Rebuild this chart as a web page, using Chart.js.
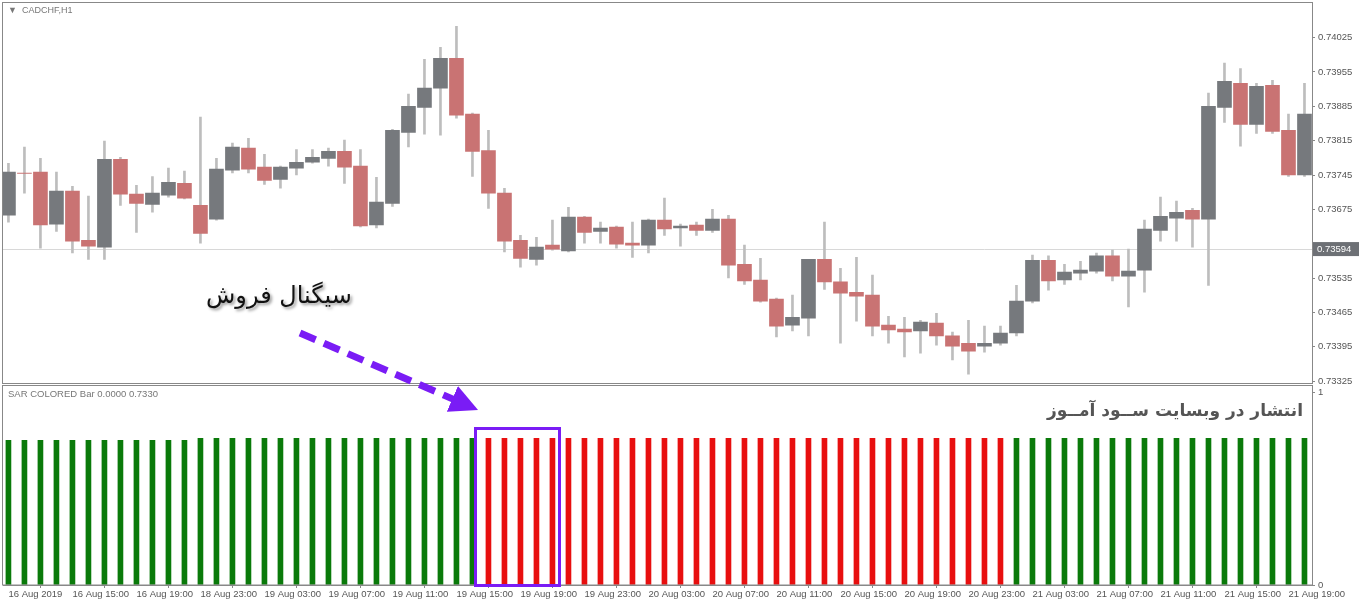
<!DOCTYPE html>
<html><head><meta charset="utf-8">
<script src="https://cdn.jsdelivr.net/npm/chart.js@4.4.1/dist/chart.umd.min.js"></script>
<style>
html,body{margin:0;padding:0;background:#fff;width:1360px;height:605px;overflow:hidden;font-family:"DejaVu Sans",sans-serif}
#w1{position:absolute;left:0;top:0;width:1360px;height:396px}
#w2{position:absolute;left:0;top:0;width:1360px;height:605px}
.t{position:absolute;white-space:nowrap}
svg{position:absolute;left:0;top:0}
</style></head><body>
<div id="w2"><canvas id="c2"></canvas></div>
<div id="w1"><canvas id="c1"></canvas></div>
<div class="t" style="left:8px;top:5px;font-size:9px;color:#777;font-family:'Liberation Sans'">&#9660;&nbsp; CADCHF,H1</div>
<div class="t" style="left:8px;top:388px;font-size:9.5px;color:#777;font-family:'Liberation Sans'">SAR COLORED Bar 0.0000 0.7330</div>
<div class="t" dir="rtl" style="left:206px;top:281px;font-size:24px;color:#111;text-shadow:2px 2px 3px #999">سیگنال فروش</div>
<div class="t" dir="rtl" style="right:57px;top:400px;font-size:17px;font-weight:bold;color:#555">انتشار در وبسایت ســود آمــوز</div>
<svg width="1360" height="605">
<defs><marker id="ah" markerWidth="4" markerHeight="4" refX="1.5" refY="2" orient="auto"><path d="M0,0 L4,2 L0,4 z" fill="#7a1cf5"/></marker></defs>
<line x1="300" y1="333" x2="462" y2="403" stroke="#7a1cf5" stroke-width="7" stroke-dasharray="17,9" marker-end="url(#ah)"/>
<rect x="475.5" y="428.5" width="84" height="157" fill="none" stroke="#7a1cf5" stroke-width="3"/>
</svg>
<script>
const timeLabels=["16 Aug 2019","16 Aug 15:00","16 Aug 19:00","18 Aug 23:00","19 Aug 03:00","19 Aug 07:00","19 Aug 11:00","19 Aug 15:00","19 Aug 19:00","19 Aug 23:00","20 Aug 03:00","20 Aug 07:00","20 Aug 11:00","20 Aug 15:00","20 Aug 19:00","20 Aug 23:00","21 Aug 03:00","21 Aug 07:00","21 Aug 11:00","21 Aug 15:00","21 Aug 19:00"];
const priceTicks=[0.74025,0.73955,0.73885,0.73815,0.73745,0.73675,0.73535,0.73465,0.73395,0.73325];
const lastPrice=0.73594;
const opens=[0.73663,0.73749,0.73751,0.73645,0.73712,0.73612,0.73598,0.73777,0.73706,0.73685,0.73704,0.73728,0.73683,0.73655,0.73755,0.73800,0.73761,0.73736,0.73759,0.73771,0.73779,0.73793,0.73763,0.73643,0.73687,0.73832,0.73883,0.73922,0.73983,0.73869,0.73795,0.73708,0.73612,0.73573,0.73602,0.73590,0.73659,0.73630,0.73639,0.73606,0.73602,0.73653,0.73637,0.73643,0.73632,0.73655,0.73563,0.73531,0.73492,0.73439,0.73453,0.73573,0.73527,0.73506,0.73500,0.73439,0.73431,0.73427,0.73443,0.73417,0.73402,0.73396,0.73402,0.73423,0.73488,0.73571,0.73531,0.73545,0.73549,0.73580,0.73539,0.73551,0.73632,0.73657,0.73673,0.73655,0.73883,0.73932,0.73848,0.73928,0.73836,0.73745];
const highs=[0.73769,0.73802,0.73779,0.73751,0.73722,0.73702,0.73814,0.73781,0.73724,0.73742,0.73759,0.73753,0.73863,0.73779,0.73810,0.73820,0.73787,0.73763,0.73797,0.73797,0.73800,0.73816,0.73797,0.73740,0.73838,0.73910,0.73981,0.74005,0.74048,0.73871,0.73836,0.73718,0.73622,0.73618,0.73653,0.73679,0.73661,0.73649,0.73641,0.73649,0.73655,0.73698,0.73645,0.73649,0.73675,0.73663,0.73602,0.73575,0.73494,0.73500,0.73573,0.73649,0.73555,0.73577,0.73541,0.73457,0.73455,0.73449,0.73463,0.73425,0.73449,0.73437,0.73437,0.73520,0.73582,0.73580,0.73563,0.73569,0.73586,0.73592,0.73594,0.73653,0.73700,0.73692,0.73677,0.73912,0.73973,0.73962,0.73932,0.73938,0.73869,0.73932];
const lows=[0.73649,0.73708,0.73596,0.73630,0.73586,0.73573,0.73573,0.73683,0.73628,0.73669,0.73700,0.73696,0.73606,0.73653,0.73749,0.73749,0.73726,0.73718,0.73745,0.73769,0.73763,0.73728,0.73639,0.73637,0.73681,0.73802,0.73828,0.73826,0.73861,0.73742,0.73677,0.73588,0.73557,0.73561,0.73592,0.73588,0.73606,0.73606,0.73596,0.73577,0.73586,0.73622,0.73600,0.73622,0.73628,0.73535,0.73522,0.73486,0.73415,0.73427,0.73417,0.73512,0.73402,0.73447,0.73417,0.73402,0.73374,0.73382,0.73398,0.73368,0.73339,0.73384,0.73398,0.73417,0.73484,0.73510,0.73522,0.73531,0.73545,0.73529,0.73476,0.73506,0.73610,0.73610,0.73598,0.73520,0.73852,0.73804,0.73830,0.73830,0.73742,0.73742];
const closes=[0.73751,0.73748,0.73643,0.73712,0.73610,0.73600,0.73777,0.73706,0.73687,0.73708,0.73730,0.73698,0.73626,0.73757,0.73802,0.73757,0.73734,0.73761,0.73771,0.73781,0.73793,0.73761,0.73641,0.73690,0.73836,0.73885,0.73922,0.73983,0.73867,0.73793,0.73708,0.73610,0.73575,0.73598,0.73594,0.73659,0.73628,0.73637,0.73604,0.73602,0.73653,0.73635,0.73641,0.73632,0.73655,0.73561,0.73529,0.73488,0.73437,0.73455,0.73573,0.73527,0.73504,0.73498,0.73437,0.73429,0.73425,0.73445,0.73417,0.73396,0.73386,0.73402,0.73423,0.73488,0.73571,0.73529,0.73547,0.73551,0.73580,0.73539,0.73549,0.73635,0.73661,0.73669,0.73655,0.73885,0.73936,0.73848,0.73926,0.73834,0.73745,0.73869];
const sarValues=[0.75,0.75,0.75,0.75,0.75,0.75,0.75,0.75,0.75,0.75,0.75,0.75,0.76,0.76,0.76,0.76,0.76,0.76,0.76,0.76,0.76,0.76,0.76,0.76,0.76,0.76,0.76,0.76,0.76,0.76,0.76,0.76,0.76,0.76,0.76,0.76,0.76,0.76,0.76,0.76,0.76,0.76,0.76,0.76,0.76,0.76,0.76,0.76,0.76,0.76,0.76,0.76,0.76,0.76,0.76,0.76,0.76,0.76,0.76,0.76,0.76,0.76,0.76,0.76,0.76,0.76,0.76,0.76,0.76,0.76,0.76,0.76,0.76,0.76,0.76,0.76,0.76,0.76,0.76,0.76,0.76,0.76];
const sarTrend="GGGGGGGGGGGGGGGGGGGGGGGGGGGGGGRRRRRRRRRRRRRRRRRRRRRRRRRRRRRRRRRGGGGGGGGGGGGGGGGGGG".split("");

const BULL="#76797d",BEAR="#c97373",WICK="#bdbdbd";
const font={family:"Liberation Sans",size:9.5};
const xMin=-0.34,xMax=81.47;
function fixW(w){return s=>{s.width=w;};}

const lastLine={id:'lastLine',
  beforeDatasetsDraw(c){const y=c.scales.y.getPixelForValue(lastPrice),a=c.chartArea,x=c.ctx;
    x.save();x.strokeStyle="#d8d8d8";x.lineWidth=1;x.beginPath();x.moveTo(a.left,Math.round(y)+.5);x.lineTo(a.right,Math.round(y)+.5);x.stroke();x.restore();},
  afterDraw(c){const y=c.scales.y.getPixelForValue(lastPrice),a=c.chartArea,x=c.ctx;
    x.save();x.fillStyle="#6d7075";x.fillRect(a.right+1,y-7,46,14);x.fillStyle="#fff";x.font="9.5px Liberation Sans";x.textBaseline="middle";x.fillText(lastPrice.toFixed(5),a.right+5,y+0.5);x.restore();}
};

new Chart(document.getElementById('c1'),{
  type:'bar',
  data:{datasets:[
    {data:lows.map((l,i)=>({x:i,y:[l,highs[i]]})),backgroundColor:WICK,barThickness:2,grouped:false,order:2},
    {data:opens.map((o,i)=>({x:i,y:[o,closes[i]===o?o+0.000015:closes[i]]})),backgroundColor:opens.map((o,i)=>closes[i]>=o?BULL:BEAR),barThickness:14,grouped:false,order:1}
  ]},
  options:{responsive:true,maintainAspectRatio:false,animation:false,
    layout:{padding:{left:3,top:4,right:0,bottom:13}},
    plugins:{legend:{display:false},tooltip:{enabled:false}},
    scales:{
      x:{type:'linear',min:xMin,max:xMax,offset:false,bounds:'ticks',display:false},
      y:{position:'right',min:0.73321,max:0.74084,afterFit:fixW(48),
        afterBuildTicks:s=>{s.ticks=priceTicks.map(v=>({value:v}));},
        ticks:{callback:v=>v.toFixed(5),font,color:"#555",padding:3},
        grid:{drawOnChartArea:false,drawTicks:true,tickLength:3,color:"#888"},
        border:{display:true,color:"#888"}}
    }},
  plugins:[lastLine]
});

new Chart(document.getElementById('c2'),{
  type:'bar',
  data:{datasets:[{data:sarValues.map((v,i)=>({x:i,y:v})),backgroundColor:sarTrend.map(t=>t==="G"?"#0a7a0a":"#e80f0f"),barThickness:5}]},
  options:{responsive:true,maintainAspectRatio:false,animation:false,
    layout:{padding:{left:3,top:387,right:0,bottom:0}},
    plugins:{legend:{display:false},tooltip:{enabled:false}},
    scales:{
      x:{type:'linear',min:xMin,max:xMax,offset:false,afterFit:s=>{s.height=20;},
        afterBuildTicks:s=>{s.ticks=timeLabels.map((t,j)=>({value:j*4}));},
        ticks:{autoSkip:false,maxRotation:0,align:'start',font,color:"#555",padding:1,callback:(v)=>timeLabels[Math.round(v/4)]},
        grid:{drawOnChartArea:false,drawTicks:true,tickLength:3,color:"#888"},
        border:{display:true,color:"#888"}},
      y:{position:'right',min:0,max:1.026,afterFit:fixW(48),
        afterBuildTicks:s=>{s.ticks=[{value:0},{value:1}];},
        ticks:{font,color:"#555",padding:3},
        grid:{drawOnChartArea:false,drawTicks:true,tickLength:3,color:"#888"},
        border:{display:true,color:"#888"}}
    }},
  plugins:[{id:'frame',afterDraw(c){const x=c.ctx,a=c.chartArea;x.save();x.strokeStyle="#888";x.lineWidth=1;
    x.strokeRect(2.5,2.5,a.right-2,381);x.strokeRect(2.5,a.top-1.5,a.right-2,a.bottom-a.top+1.5);x.restore();}}]
});
</script>
</body></html>
